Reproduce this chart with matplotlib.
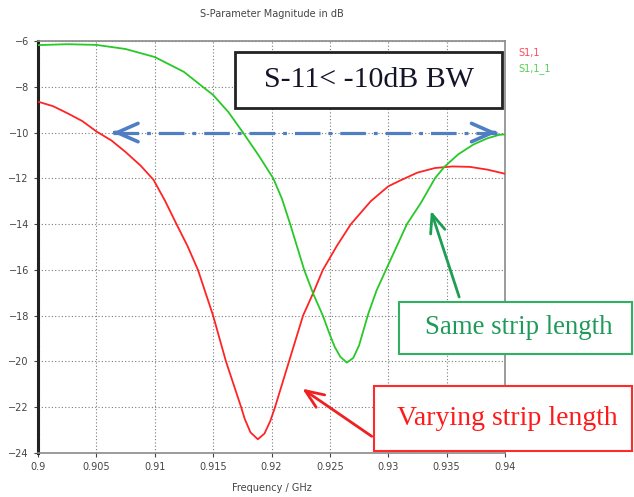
import numpy as np
import matplotlib
matplotlib.use("Agg")
import matplotlib.pyplot as plt
from matplotlib.patches import Rectangle

# S11 traces (frequency in GHz, magnitude in dB)
freq_var = [0.9, 0.9013, 0.9025, 0.9038, 0.905, 0.9063, 0.9075, 0.9088, 0.9099,
            0.9109, 0.9119, 0.9128, 0.9137, 0.915, 0.9161, 0.9174, 0.9177,
            0.9182, 0.91883, 0.9194, 0.9199, 0.9203, 0.9215, 0.9227, 0.92358,
            0.9244, 0.9256, 0.9268, 0.9285, 0.93, 0.931, 0.9325, 0.934, 0.9355,
            0.937, 0.9385, 0.94]
s11_var = [-8.65, -8.85, -9.15, -9.5, -9.95, -10.35, -10.85, -11.45, -12.07,
           -13.0, -14.04, -14.95, -16.0, -18.0, -20.0, -22.0, -22.5,
           -23.1, -23.4, -23.15, -22.6, -22.0, -20.0, -18.0, -17.0,
           -16.0, -14.95, -14.0, -13.0, -12.35, -12.1, -11.75, -11.55, -11.48,
           -11.5, -11.62, -11.8]

freq_same = [0.9, 0.9025, 0.905, 0.9075, 0.91, 0.9125, 0.915, 0.9163, 0.91756,
             0.9189, 0.92015, 0.9209, 0.9216, 0.9228, 0.92358, 0.9244, 0.9249,
             0.9254, 0.9259, 0.92645, 0.927, 0.9275, 0.9279, 0.9283, 0.929,
             0.9298, 0.9316, 0.9328, 0.934, 0.9348, 0.936, 0.9373, 0.9385,
             0.9395, 0.94]
s11_same = [-6.18, -6.14, -6.17, -6.35, -6.7, -7.35, -8.36, -9.1, -10.0,
            -11.0, -12.0, -12.9, -14.0, -16.0, -17.05, -18.0, -18.7,
            -19.35, -19.8, -20.05, -19.85, -19.3, -18.6, -17.9, -16.9,
            -16.0, -14.0, -13.07, -12.0, -11.5, -10.95, -10.52, -10.25,
            -10.1, -10.08]

xticks = [0.9, 0.905, 0.91, 0.915, 0.92, 0.925, 0.93, 0.935, 0.94]
xtick_labels = ["0.9", "0.905", "0.91", "0.915", "0.92", "0.925", "0.93", "0.935", "0.94"]
yticks = [-24, -22, -20, -18, -16, -14, -12, -10, -8, -6]

# -10 dB bandwidth marker and pointer arrows (data coords)
bw_level = -10
bw_start, bw_end = 0.9064, 0.9393
var_arrow = ((0.92244, -21.12), (0.92878, -23.34))
same_arrow = ((0.93358, -13.3), (0.93615, -17.3))

W, H = 634, 497
fig = plt.figure(figsize=(W / 100, H / 100), dpi=100)
ax = fig.add_axes([38 / W, 1 - 453 / H, (505 - 38) / W, (453 - 41) / H])

red = "#ff2424"
green = "#28c828"
ax.plot(freq_var, s11_var, color=red, lw=1.3, zorder=3)
ax.plot(freq_same, s11_same, color=green, lw=1.3, zorder=3)

ax.set_xlim(0.9, 0.94)
ax.set_ylim(-24, -6)
ax.set_xticks(xticks)
ax.set_xticklabels(xtick_labels)
ax.set_yticks(yticks)
ax.tick_params(labelsize=7, colors="#444444", length=3, width=0.8)
ax.grid(True, color="#7a7a7a", lw=0.8, linestyle=(0, (1, 2)))

for side in ["top", "right", "bottom"]:
    ax.spines[side].set_color("#8a8a8a")
    ax.spines[side].set_linewidth(1.2)
ax.spines["left"].set_color("#222222")
ax.spines["left"].set_linewidth(2.2)
ax.spines["left"].set_linestyle((0, (1, 0.6)))

ax.set_title("S-Parameter Magnitude in dB", fontsize=7, color="#444444", pad=17)
ax.set_xlabel("Frequency / GHz", fontsize=7, color="#444444", labelpad=8)

# legend-style labels to the right of the plot
fig.text(518 / W, 1 - 53 / H, "S1,1", color="#ff4a5a", fontsize=7, va="center")
fig.text(518 / W, 1 - 69 / H, "S1,1_1", color="#55d055", fontsize=7, va="center")

# bandwidth arrow: dash-dot shaft with open heads
blue = "#4f7fc2"
ax.plot([bw_start, bw_end], [bw_level, bw_level], color=blue, lw=2.3,
        linestyle=(0, (8, 2.5, 1.2, 2.5)), zorder=4, solid_capstyle="butt")
for tip, back in [(bw_start, bw_start + 0.0002), (bw_end, bw_end - 0.0002)]:
    ax.annotate("", xy=(tip, bw_level), xytext=(back, bw_level),
                arrowprops=dict(arrowstyle="->,head_length=1.25,head_width=0.55",
                                color=blue, lw=2.6, mutation_scale=12),
                zorder=4)

ax.annotate("", xy=var_arrow[0], xytext=var_arrow[1],
            arrowprops=dict(arrowstyle="->,head_length=1.1,head_width=0.45",
                            color="#f02020", lw=2, mutation_scale=12),
            annotation_clip=False, zorder=5)
ax.annotate("", xy=same_arrow[0], xytext=same_arrow[1],
            arrowprops=dict(arrowstyle="->,head_length=1.1,head_width=0.45",
                            color="#1e9e55", lw=2, mutation_scale=12),
            annotation_clip=False, zorder=5)


def label_box(x0, y0, x1, y1, text, edge, tcolor, size, lw, dx=0):
    # box given in pixel coords from the top-left corner of the figure
    fig.add_artist(Rectangle((x0 / W, 1 - y1 / H), (x1 - x0) / W, (y1 - y0) / H,
                             transform=fig.transFigure, facecolor="white",
                             edgecolor=edge, lw=lw, zorder=6))
    fig.text(((x0 + x1) / 2 + dx) / W, 1 - (y0 + y1) / 2 / H, text, color=tcolor,
             fontsize=size, family="Liberation Serif", ha="center", va="center",
             zorder=7)


label_box(235, 52, 502, 108, "S-11< -10dB BW", "#222222", "#141428", 21.5, 2)
label_box(399, 302, 632, 354, "Same strip length", "#30b060", "#1f9a5a", 19.4, 1.5, dx=3)
label_box(374, 386, 632, 451, "Varying strip length", "#ff2a2a", "#ff1a1a", 20, 1.5, dx=4)

fig.savefig("out.png", dpi=100)
